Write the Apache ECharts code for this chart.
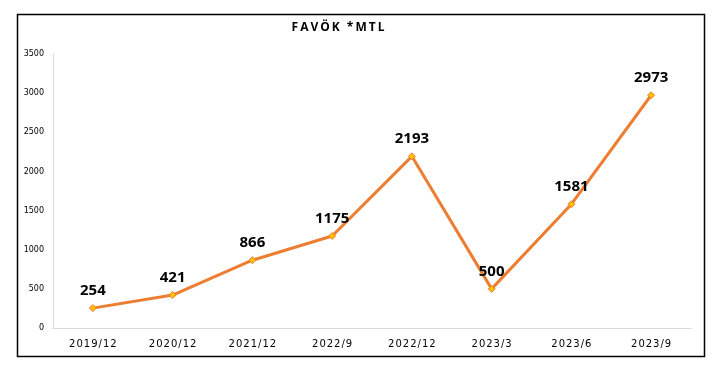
<!DOCTYPE html>
<html><head><meta charset="utf-8">
<script src="https://cdn.jsdelivr.net/npm/echarts@6/dist/echarts.min.js"></script>
<style>html,body{margin:0;padding:0;background:#fff}#c{width:716px;height:373px}</style>
</head><body><div id="c"></div>
<script>
const titleText = 'FAVÖK *MTL';
const categories = ['2019/12','2020/12','2021/12','2022/9','2022/12','2023/3','2023/6','2023/9'];
const values = [254, 421, 866, 1175, 2193, 500, 1581, 2973];
const yTicks = [0, 500, 1000, 1500, 2000, 2500, 3000, 3500];

const chart = echarts.init(document.getElementById('c'), null, {renderer:'canvas'});
chart.setOption({
  animation: false,
  backgroundColor: '#fff',
  title: {
    text: titleText.split('').join('\u2009'),
    left: 333, top: 17, textAlign: 'center',
    textStyle: {fontFamily: 'Open Sans', fontWeight: 'bold', fontSize: 12, color: '#000'}
  },
  graphic: [{
    type: 'rect', shape: {x: 17.5, y: 14.5, width: 687, height: 342},
    style: {fill: 'none', stroke: '#000', lineWidth: 1.5}, silent: true
  }],
  grid: {left: 53, right: 716 - 691, top: 54, bottom: 373 - 328, containLabel: false},
  xAxis: {
    type: 'category', data: categories, boundaryGap: true,
    axisLine: {lineStyle: {color: '#d9d9d9', width: 1}},
    axisTick: {show: false},
    axisLabel: {color: '#000', fontSize: 10, fontFamily: 'DejaVu Sans', margin: 11,
      formatter: v => v.split('').join('\u200a')}
  },
  yAxis: {
    type: 'value', min: 0, max: 3500, interval: 500,
    axisLine: {show: true, lineStyle: {color: '#d9d9d9', width: 1}},
    axisTick: {show: false},
    splitLine: {show: false},
    axisLabel: {color: '#000', fontSize: 8, fontFamily: 'DejaVu Sans', margin: 9,
      formatter: v => yTicks.includes(v) ? String(v) : ''}
  },
  series: [{
    type: 'line', data: values,
    lineStyle: {color: '#ED7D31', width: 3},
    symbol: 'diamond', symbolSize: 7,
    itemStyle: {color: '#FFC000', borderColor: '#ED7D31', borderWidth: 1},
    label: {show: true, position: 'top', distance: 6, color: '#000',
      fontSize: 15, fontWeight: 'bold', fontFamily: 'Open Sans'}
  }]
});
</script></body></html>
